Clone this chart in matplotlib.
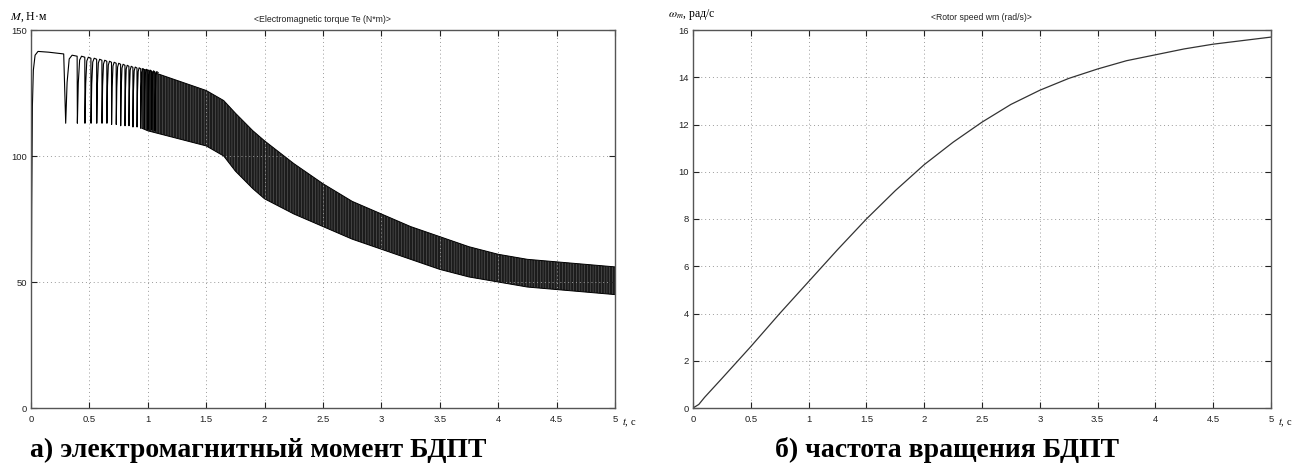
import numpy as np
import matplotlib
matplotlib.use("Agg")
import matplotlib.pyplot as plt

# ---------------- data ----------------
# torque: start-up segment
t_start = [0.0, 0.006, 0.012, 0.02, 0.035, 0.06, 0.15, 0.28]
M_start = [0.0, 80.0, 120.0, 134.0, 140.0, 141.5, 141.2, 140.5]

# distinct commutation dips (time of dip, trough value, peak value before next dip)
dip_t = [0.297, 0.397, 0.462, 0.514, 0.563, 0.608, 0.650, 0.690, 0.730, 0.768,
         0.805, 0.839, 0.873, 0.908, 0.940, 0.970, 1.002, 1.033, 1.061]
dip_v = [113, 113, 113, 113, 113, 113, 113, 112.5, 112.5, 112, 112, 112, 111.5,
         111.5, 111, 111, 110.5, 110.5, 110]
peak_v = [140, 139.6, 139.2, 138.8, 138.4, 138, 137.6, 137.2, 136.8, 136.4, 136,
          135.6, 135.3, 135, 134.7, 134.4, 134.1, 133.8, 133.5]

# dense oscillation band: envelope
t_env = [0.95, 1.0, 1.25, 1.5, 1.65, 1.75, 1.9, 2.0, 2.25, 2.5, 2.75, 3.0, 3.25,
         3.5, 3.75, 4.0, 4.25, 4.5, 4.75, 5.0]
M_upper = [134.5, 134, 130, 126, 122, 117, 110, 106, 97, 89, 82, 77, 72, 68, 64,
           61, 59, 58, 57, 56]
M_lower = [111, 110, 107, 104, 100, 94, 87, 83, 77, 72, 67, 63, 59, 55, 52, 50,
           48, 47, 46, 45]

# rotor speed
t_w = [0, 0.05, 0.1, 0.25, 0.5, 0.75, 1.0, 1.25, 1.5, 1.75, 2.0, 2.25, 2.5, 2.75,
       3.0, 3.25, 3.5, 3.75, 4.0, 4.25, 4.5, 4.75, 5.0]
w_m = [0, 0.15, 0.45, 1.25, 2.6, 4.0, 5.35, 6.7, 8.0, 9.2, 10.3, 11.25, 12.1,
       12.85, 13.45, 13.95, 14.35, 14.7, 14.95, 15.2, 15.4, 15.55, 15.7]

x_ticks = [0, 0.5, 1, 1.5, 2, 2.5, 3, 3.5, 4, 4.5, 5]
x_labels = ["0", "0.5", "1", "1.5", "2", "2.5", "3", "3.5", "4", "4.5", "5"]
y_ticks_M = [0, 50, 100, 150]
y_ticks_w = [0, 2, 4, 6, 8, 10, 12, 14, 16]

title_M = "<Electromagnetic torque Te (N*m)>"
title_w = "<Rotor speed wm (rad/s)>"
caption_a = "а) электромагнитный момент БДПТ"
caption_b = "б) частота вращения БДПТ"

# ---------------- build torque polyline from dips ----------------
tx = list(t_start)
my = list(M_start)
for i, (td, tv, pv) in enumerate(zip(dip_t, dip_v, peak_v)):
    tx.append(td)
    my.append(tv)
    nxt = dip_t[i + 1] if i + 1 < len(dip_t) else td + (td - dip_t[i - 1])
    gap = nxt - td
    tx += [td + 0.12 * gap, td + 0.3 * gap, td + 0.55 * gap, nxt - 0.02 * gap]
    my += [tv + 0.6 * (pv - tv), pv - 1.5, pv, pv - 0.4]

# ---------------- figure ----------------
W, H = 1295, 471
fig = plt.figure(figsize=(W / 100, H / 100), dpi=100)
fig.patch.set_facecolor("white")
plt.rcParams["hatch.linewidth"] = 0.35

tick_font = ["Liberation Sans Narrow", "Liberation Sans", "DejaVu Sans"]


def style_axes(ax, yticks, ylim):
    ax.set_xlim(0, 5)
    ax.set_ylim(*ylim)
    ax.set_xticks(x_ticks)
    ax.set_xticklabels(x_labels)
    ax.set_yticks(yticks)
    ax.grid(True, color="#9a9a9a", linestyle=(0, (1, 3)), linewidth=0.7)
    ax.tick_params(direction="in", length=4, width=0.8, top=True, right=True,
                   labelsize=6.8, colors="#222222")
    ax.tick_params(axis="x", pad=5)
    ax.tick_params(axis="y", pad=3)
    for lab in ax.get_xticklabels() + ax.get_yticklabels():
        lab.set_family(tick_font)
    for sp in ax.spines.values():
        sp.set_color("#555555")
        sp.set_linewidth(1.0)


ax1 = fig.add_axes([31 / W, 1 - 408 / H, 584 / W, 378 / H])
ax1.plot(tx, my, color="black", linewidth=0.8)
ax1.fill_between(t_env, M_lower, M_upper, facecolor="#1c1c1c", linewidth=0.0,
                 edgecolor="#6a6a6a", hatch="||||||")
ax1.plot(t_env, M_upper, color="black", linewidth=0.7)
ax1.plot(t_env, M_lower, color="black", linewidth=0.7)
style_axes(ax1, y_ticks_M, (0, 150))

ax2 = fig.add_axes([693 / W, 1 - 408 / H, 578 / W, 378 / H])
ax2.plot(t_w, w_m, color="#333333", linewidth=0.9)
style_axes(ax2, y_ticks_w, (0, 16))

# titles (small, centered above axes)
fig.text(322 / W, 1 - 19 / H, title_M, ha="center", va="center", fontsize=6.3,
         family=tick_font, color="#222222")
fig.text(981 / W, 1 - 17 / H, title_w, ha="center", va="center", fontsize=6.2,
         family=tick_font, color="#222222")

# y labels
fig.text(10 / W, 1 - 17 / H, r"$M$, Н·м", ha="left", va="center", fontsize=8.5,
         family="Liberation Serif", math_fontfamily="stix")
fig.text(668 / W, 1 - 15 / H, r"$\omega_m$, рад/с", ha="left", va="center",
         fontsize=8.5, family="Liberation Serif", math_fontfamily="stix")

# x labels "t, c"
for ax in (ax1, ax2):
    ax.text(1.012, -0.04, r"$t$, с", transform=ax.transAxes, ha="left",
            va="center", fontsize=7.5, family="Liberation Serif",
            math_fontfamily="stix")

# captions
fig.text(258 / W, 1 - 450 / H, caption_a, ha="center", va="center", fontsize=20,
         fontweight="bold", family="Liberation Serif")
fig.text(947 / W, 1 - 450 / H, caption_b, ha="center", va="center", fontsize=20,
         fontweight="bold", family="Liberation Serif")

fig.savefig("out.png", dpi=100, facecolor="white")
